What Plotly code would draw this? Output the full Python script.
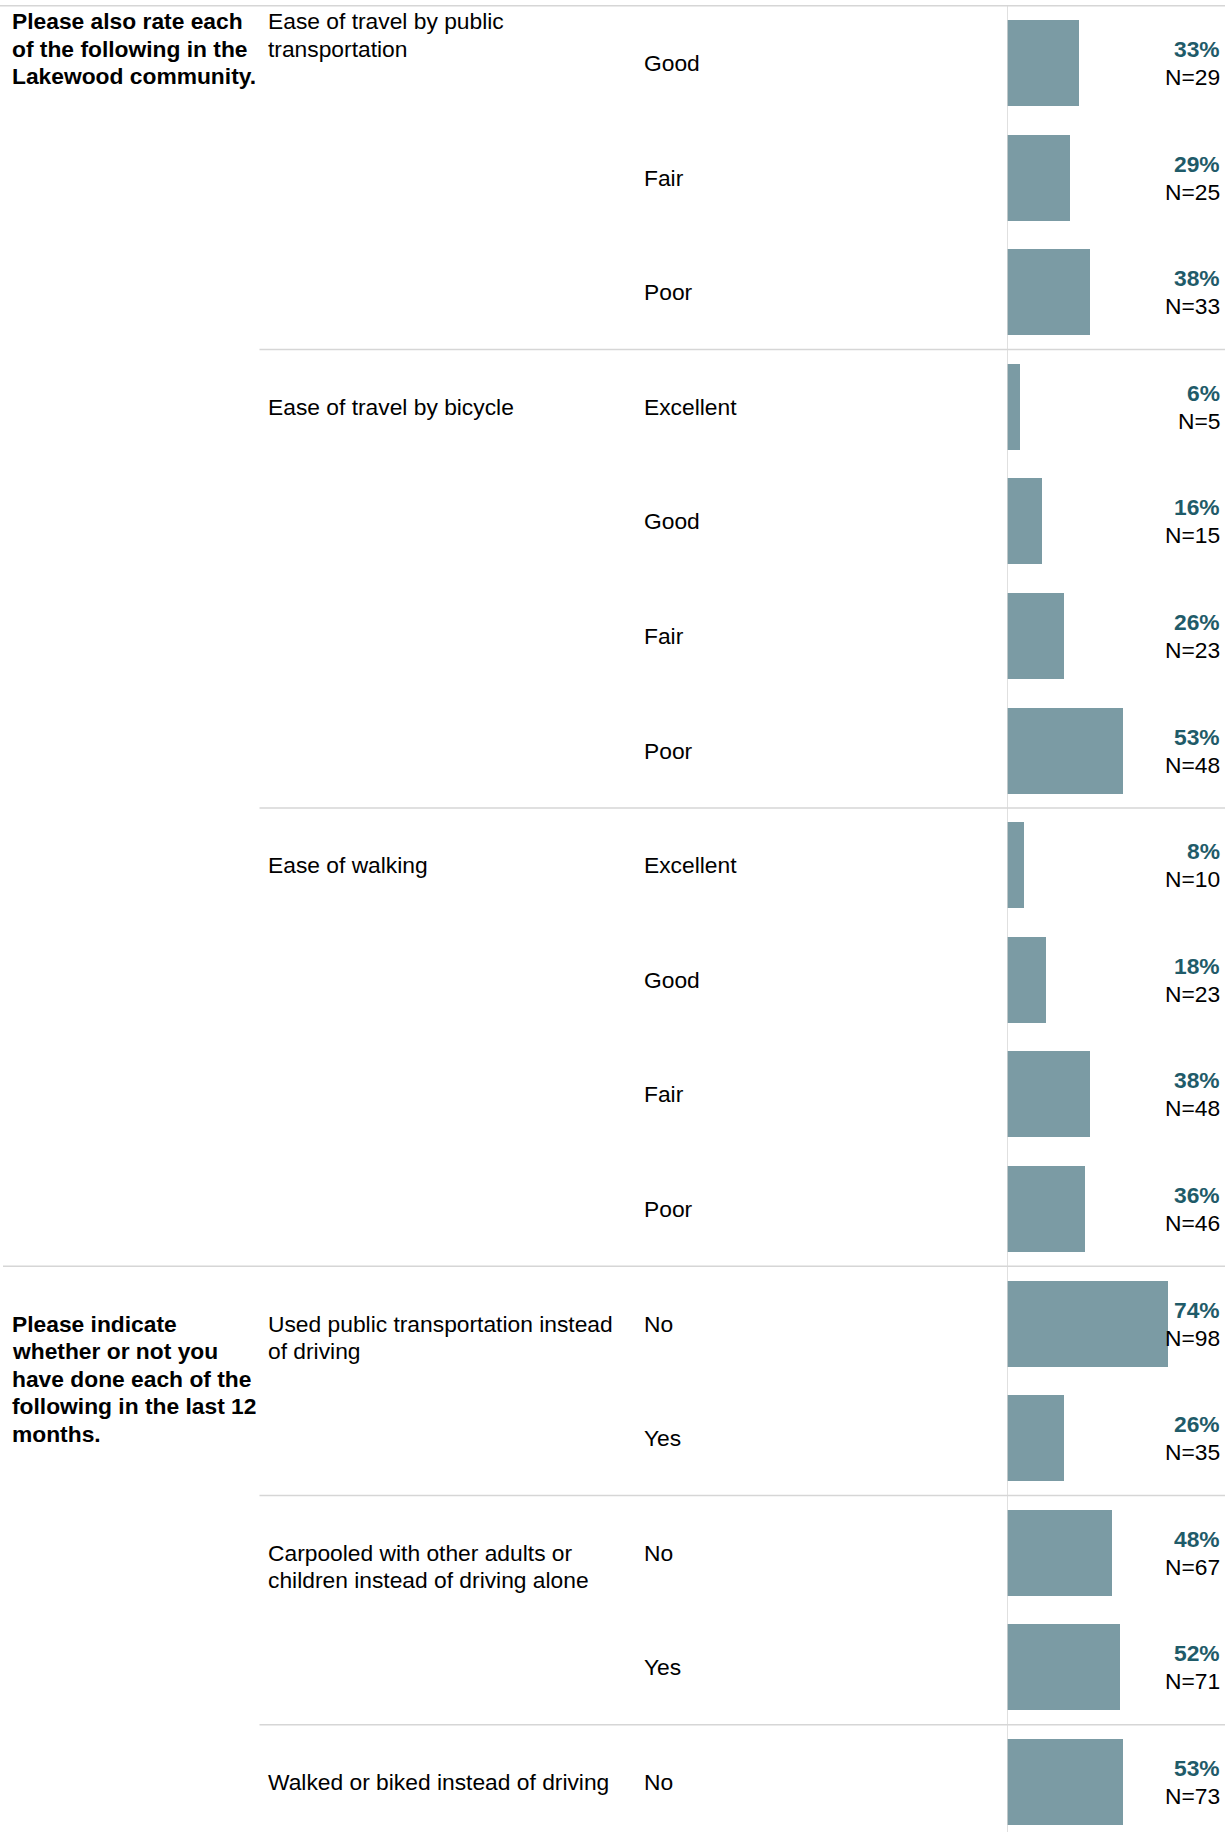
import plotly.graph_objects as go

# Fragen (linke Spalte), Items (mittlere Spalte) und Antworten
question_lines = [
    ["Please also rate each", "of the following in the", "Lakewood community."],
    ["Please indicate", "whether or not you", "have done each of the",
     "following in the last 12", "months."],
]
item_lines = [
    ["Ease of travel by public", "transportation"],
    ["Ease of travel by bicycle"],
    ["Ease of walking"],
    ["Used public transportation instead", "of driving"],
    ["Carpooled with other adults or", "children instead of driving alone"],
    ["Walked or biked instead of driving"],
]
item_question = [0, 0, 0, 1, 1, 1]

responses = ["Good", "Fair", "Poor",
             "Excellent", "Good", "Fair", "Poor",
             "Excellent", "Good", "Fair", "Poor",
             "No", "Yes",
             "No", "Yes",
             "No"]
row_item = [0, 0, 0, 1, 1, 1, 1, 2, 2, 2, 2, 3, 3, 4, 4, 5]
pct = [33, 29, 38, 6, 16, 26, 53, 8, 18, 38, 36, 74, 26, 48, 52, 53]
counts = [29, 25, 33, 5, 15, 23, 48, 10, 23, 48, 46, 98, 35, 67, 71, 73]

W, H = 1225, 1832
FONT = "Liberation Sans, Arial, sans-serif"
FS = 22.8
BAR = "#7b9ba4"
PCT_COLOR = "#1f5b69"
GRID = "#d6d6d6"
ROW_PX = 114.6
LINE_PX = 27.5

rows = list(range(len(responses)))
top = -63 / ROW_PX
bottom = top + H / ROW_PX

fig = go.Figure()
fig.add_trace(go.Bar(
    x=pct, y=rows, orientation="h", width=0.75,
    marker=dict(color=BAR, line=dict(width=0)),
    hoverinfo="skip",
))

annotations = []
shapes = []

def add_lines(lines, x_px, y, bold=False, first_shift=0):
    for i, t in enumerate(lines):
        annotations.append(dict(
            x=x_px / W, xref="paper", y=y, yref="y",
            xanchor="left", yanchor="middle",
            yshift=first_shift - i * LINE_PX,
            text=f"<b>{t}</b>" if bold else t,
            showarrow=False,
            font=dict(family=FONT, size=FS, color="#000000"),
        ))

# Antwort-Labels und Prozentwerte
for r in rows:
    add_lines([responses[r]], 642, r)
    annotations.append(dict(
        x=1222 / W, xref="paper", y=r, yref="y", xanchor="right", yanchor="middle",
        yshift=14, text=f"<b>{pct[r]}%</b>", showarrow=False,
        font=dict(family=FONT, size=FS, color=PCT_COLOR),
    ))
    annotations.append(dict(
        x=1222 / W, xref="paper", y=r, yref="y", xanchor="right", yanchor="middle",
        yshift=-14, text=f"N={counts[r]}", showarrow=False,
        font=dict(family=FONT, size=FS, color="#000000"),
    ))

# Item-Labels: erste Zeile auf der ersten Reihe der Gruppe (erste Gruppe oben)
first_q_seen = set()
for k, lines in enumerate(item_lines):
    first_row = row_item.index(k)
    shift = 42 if first_row == 0 else 0
    add_lines(lines, 266, first_row, first_shift=shift)
    q = item_question[k]
    if q not in first_q_seen:
        first_q_seen.add(q)
        add_lines(question_lines[q], 10, first_row, bold=True, first_shift=shift)
    # Trennlinie unter der Gruppe
    last_row = len(row_item) - 1 - row_item[::-1].index(k)
    if last_row < len(rows) - 1:
        next_q = item_question[row_item[last_row + 1]]
        x0 = 3 / W if next_q != q else 259.5 / W
        shapes.append(dict(type="line", xref="paper", yref="y", x0=x0, x1=1,
                           y0=last_row + 0.5, y1=last_row + 0.5,
                           line=dict(color=GRID, width=1.5)))

# obere Linie und Null-Achse
shapes.append(dict(type="line", xref="paper", yref="y", x0=0, x1=1,
                   y0=-0.5, y1=-0.5, line=dict(color=GRID, width=1.5)))
shapes.append(dict(type="line", xref="x", yref="y", x0=0, x1=0,
                   y0=-0.5, y1=bottom, line=dict(color=GRID, width=1.5)))

fig.update_layout(
    width=W, height=H,
    margin=dict(l=0, r=0, t=0, b=0),
    plot_bgcolor="white", paper_bgcolor="white",
    showlegend=False, bargap=0,
    xaxis=dict(domain=[1007 / W, 1], range=[0, 100], visible=False, fixedrange=True),
    yaxis=dict(range=[bottom, top], visible=False, fixedrange=True),
    annotations=annotations, shapes=shapes,
)

fig.write_html("out.html", config={"displayModeBar": False},
               post_script="document.body.style.margin='0';")
